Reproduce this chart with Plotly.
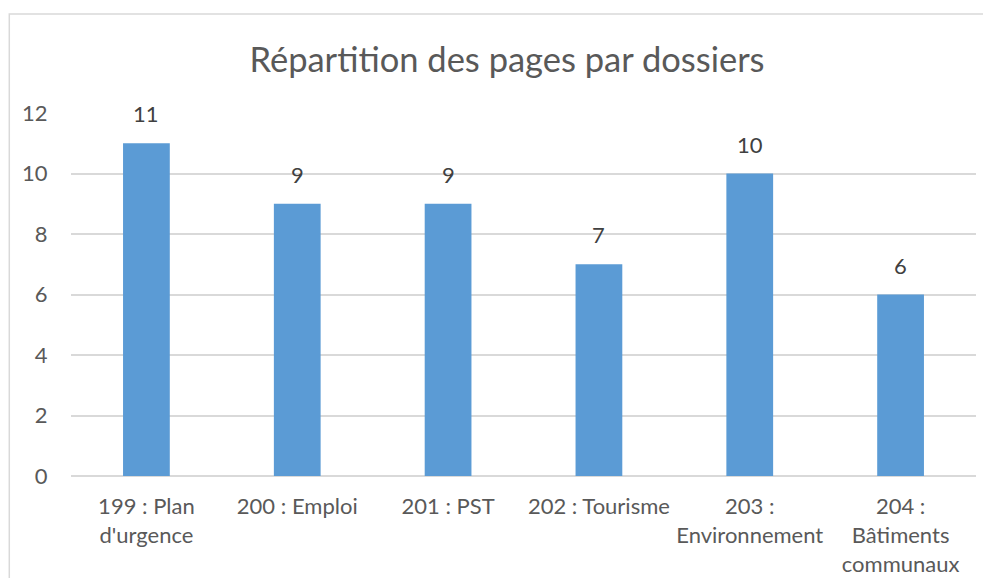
import plotly.graph_objects as go

categories = ["199 : Plan<br>d'urgence", "200 : Emploi", "201 : PST", "202 : Tourisme",
              "203 :<br>Environnement", "204 :<br>Bâtiments<br>communaux"]
values = [11, 9, 9, 7, 10, 6]
y_ticks = [0, 2, 4, 6, 8, 10, 12]
title_text = "Répartition des pages par dossiers"

FONT = "Lato, Carlito, Calibri, sans-serif"
TXT = "#595959"
GRID = "#d9d9d9"

fig = go.Figure()
fig.add_trace(go.Bar(x=categories, y=values, marker=dict(color="#5b9bd5", line=dict(width=0)),
                     width=0.31, hoverinfo="x+y"))

for c, v in zip(categories, values):
    fig.add_annotation(x=c, y=v, text=str(v), showarrow=False, yanchor="bottom", yshift=14,
                       font=dict(family=FONT, size=22, color="#404040"))

# page has an 8px body margin; figure placed accordingly
OFF = 8
W, H = 975, 570
L, T = 70.5 - OFF, 113 - OFF
pw, ph = 906, 363
R = W - L - pw
B = H - T - ph

fig.add_shape(type="rect", xref="paper", yref="paper",
              x0=(8 - OFF - L) / pw + 0.0008, x1=1.2, y0=-0.5, y1=1 + (T - (14 - OFF)) / ph,
              line=dict(color=GRID, width=1.5), fillcolor="rgba(0,0,0,0)", layer="below")

fig.update_layout(
    width=W, height=H,
    margin=dict(l=L, r=R, t=T, b=B, autoexpand=False),
    paper_bgcolor="white", plot_bgcolor="white",
    title=dict(text=title_text, x=(507 - OFF) / W, xanchor="center", xref="container",
               y=1 - (60 - OFF) / H, yanchor="middle",
               yref="container", font=dict(family=FONT, size=34.5, color=TXT)),
    font=dict(family=FONT, color=TXT, size=22),
    showlegend=False,
    bargap=0.69,
)
fig.update_xaxes(showgrid=False, ticks="outside", ticklen=11, tickcolor="rgba(0,0,0,0)",
                 automargin=False,
                 tickfont=dict(family=FONT, size=22, color=TXT), showline=False, zeroline=False)
fig.update_yaxes(range=[0, 12], tickvals=y_ticks, showgrid=True, gridcolor=GRID, gridwidth=1.5,
                 zeroline=True, zerolinecolor=GRID, zerolinewidth=1.5, automargin=False,
                 ticks="outside", ticklen=18, tickcolor="rgba(0,0,0,0)",
                 tickfont=dict(family=FONT, size=22, color=TXT), showline=False)

fig.write_html("out.html")
